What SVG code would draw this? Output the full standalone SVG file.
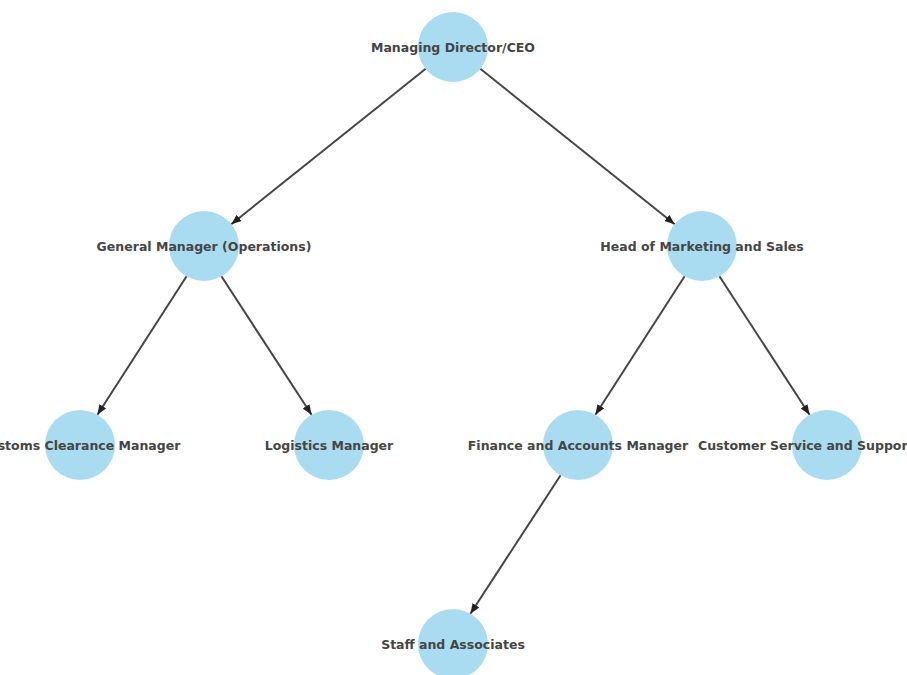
<svg xmlns="http://www.w3.org/2000/svg" width="907" height="675" viewBox="0 0 907 675">
<style>
.n{fill:#a9dcf0;}
.t{font-family:"DejaVu Sans",sans-serif;font-weight:bold;font-size:12.5px;fill:#454545;text-anchor:middle;}
.e{stroke:#454545;stroke-width:2;fill:none;marker-end:url(#a);}
</style>
<defs>
<marker id="a" viewBox="0 0 10 8" refX="10" refY="4" markerWidth="5" markerHeight="4" orient="auto" markerUnits="strokeWidth">
<path d="M0,0 L10,4 L0,8 Z" fill="#222"/>
</marker>
</defs>
<rect width="907" height="675" fill="#fff"/>
<g id="edges">
<line class="e" x1="425.7" y1="68.8" x2="231.3" y2="224.2"/>
<line class="e" x1="480.3" y1="68.8" x2="674.7" y2="224.2"/>
<line class="e" x1="186.6" y1="276.3" x2="97.4" y2="414.7"/>
<line class="e" x1="221.4" y1="276.3" x2="311.6" y2="414.7"/>
<line class="e" x1="684.6" y1="276.3" x2="595.4" y2="414.7"/>
<line class="e" x1="719.4" y1="276.3" x2="809.6" y2="414.7"/>
<line class="e" x1="560.6" y1="475.3" x2="470.4" y2="613.7"/>
</g>
<g id="ceo"><circle class="n" cx="453" cy="47" r="35"/><text class="t" x="453" y="52">Managing Director/CEO</text></g>
<g id="gm"><circle class="n" cx="204" cy="246" r="35"/><text class="t" x="204" y="251">General Manager (Operations)</text></g>
<g id="marketing"><circle class="n" cx="702" cy="246" r="35"/><text class="t" x="702" y="251">Head of Marketing and Sales</text></g>
<g id="customs"><circle class="n" cx="80" cy="445" r="35"/><text class="t" x="80" y="450">Customs Clearance Manager</text></g>
<g id="logistics"><circle class="n" cx="329" cy="445" r="35"/><text class="t" x="329" y="450">Logistics Manager</text></g>
<g id="finance"><circle class="n" cx="578" cy="445" r="35"/><text class="t" x="578" y="450">Finance and Accounts Manager</text></g>
<g id="customer"><circle class="n" cx="827" cy="445" r="35"/><text class="t" x="698" y="450" style="text-anchor:start">Customer Service and Support</text></g>
<g id="staff"><circle class="n" cx="453" cy="644" r="35"/><text class="t" x="453" y="649">Staff and Associates</text></g>
</svg>
